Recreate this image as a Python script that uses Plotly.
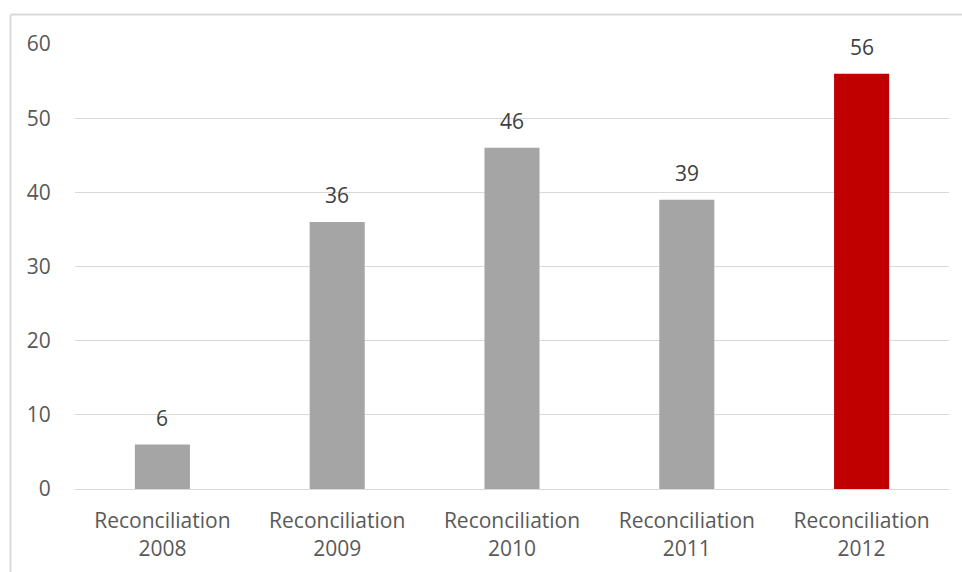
import plotly.graph_objects as go

categories = ["Reconciliation<br>2008", "Reconciliation<br>2009", "Reconciliation<br>2010",
              "Reconciliation<br>2011", "Reconciliation<br>2012"]
values = [6, 36, 46, 39, 56]
bar_colors = ["#a5a5a5", "#a5a5a5", "#a5a5a5", "#a5a5a5", "#c00000"]
y_ticks = [0, 10, 20, 30, 40, 50, 60]

W, H = 962, 572
ml, mr, mt, mb = 75, 13, 44, 83
plot_w = W - ml - mr
plot_h = H - mt - mb

font_family = "Open Sans, Noto Sans, sans-serif"
font_size = 21

fig = go.Figure(go.Bar(
    x=categories,
    y=values,
    marker=dict(color=bar_colors, line=dict(width=0)),
    width=0.315,
))

# value labels floating above each bar
for cat, v in zip(categories, values):
    fig.add_annotation(x=cat, y=v, text=str(v), showarrow=False,
                       xanchor="center", yanchor="bottom", yshift=11,
                       font=dict(size=font_size, color="#404040", family=font_family))

# chart frame, visible along the top and left edges
frame_x = (10.5 - ml) / plot_w
frame_y = 1 + (mt - 14.5) / plot_h
fig.add_shape(type="line", xref="paper", yref="paper",
              x0=frame_x, x1=1.2, y0=frame_y, y1=frame_y,
              line=dict(color="#d9d9d9", width=2))
fig.add_shape(type="line", xref="paper", yref="paper",
              x0=frame_x, x1=frame_x, y0=-0.3, y1=frame_y,
              line=dict(color="#d9d9d9", width=2))

fig.update_layout(
    width=W, height=H,
    margin=dict(l=ml, r=mr, t=mt, b=mb, pad=0, autoexpand=False),
    paper_bgcolor="white",
    plot_bgcolor="white",
    showlegend=False,
    font=dict(family=font_family, color="#595959", size=font_size),
    xaxis=dict(
        automargin=False,
        showgrid=False,
        showline=True, linecolor="#d9d9d9", linewidth=1,
        ticks="", ticklabelstandoff=13,
        tickfont=dict(size=font_size, color="#595959"),
    ),
    yaxis=dict(
        automargin=False,
        range=[0, 60],
        tickvals=y_ticks,
        showgrid=True, gridcolor="#d9d9d9", gridwidth=1,
        zeroline=False, showline=False,
        ticks="outside", ticklen=19, tickcolor="rgba(0,0,0,0)",
        tickfont=dict(size=font_size, color="#595959"),
    ),
)

fig.write_html("out.html")
